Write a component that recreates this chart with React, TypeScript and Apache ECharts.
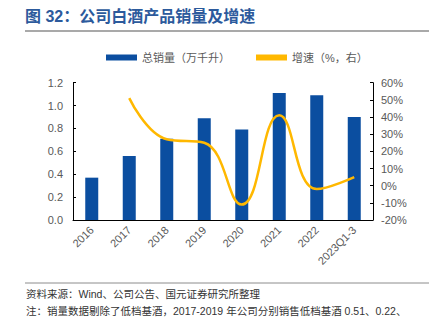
import React, { useEffect, useRef } from "react";
import * as echarts from "echarts";

const categories = ["2016", "2017", "2018", "2019", "2020", "2021", "2022", "2023Q1-3"];
const volume = [0.37, 0.56, 0.71, 0.89, 0.79, 1.11, 1.09, 0.9];
const growth = [null, 51, 27, 25, -11, 41, -2, 5];
const leftTicks = [0, 0.2, 0.4, 0.6, 0.8, 1.0, 1.2];
const rightTicks = [-20, -10, 0, 10, 20, 30, 40, 50, 60];

const titleText = "图 32：公司白酒产品销量及增速";
const sourceText = "资料来源：Wind、公司公告、国元证券研究所整理";
const noteText = "注：销量数据剔除了低档基酒，2017-2019 年公司分别销售低档基酒 0.51、0.22、";

export default function App() {
  const ref = useRef<HTMLDivElement>(null);
  useEffect(() => {
    document.body.style.margin = "0";
    const chart = echarts.init(ref.current!, null, { renderer: "svg" });
    const font = "Arial, 'Liberation Sans', 'Noto Sans CJK SC', sans-serif";
    chart.setOption({
      animation: false,
      textStyle: { fontFamily: font },
      grid: { left: 73, right: 62, top: 82.7, bottom: 104 },
      legend: {
        top: 47,
        left: 101,
        itemGap: 26,
        itemWidth: 31,
        itemHeight: 6,
        textStyle: { fontSize: 11, color: "#595959", fontFamily: font },
        data: [
          { name: "总销量（万千升）", icon: "rect" },
          { name: "增速（%，右）", icon: "rect" },
        ],
      },
      xAxis: {
        type: "category",
        data: categories,
        axisLine: { lineStyle: { color: "#000", width: 1 } },
        axisTick: { inside: true, length: 3, lineStyle: { color: "#000" } },
        axisLabel: { rotate: 45, fontSize: 11, color: "#595959", margin: 8 },
      },
      yAxis: [
        {
          type: "value",
          min: leftTicks[0],
          max: leftTicks[leftTicks.length - 1],
          interval: 0.2,
          splitLine: { show: false },
          axisLine: { show: true, lineStyle: { color: "#000" } },
          axisTick: { show: true, inside: true, length: 3, lineStyle: { color: "#000" } },
          axisLabel: { fontSize: 11, color: "#595959", formatter: (v: number) => v.toFixed(1), margin: 10 },
        },
        {
          type: "value",
          min: rightTicks[0],
          max: rightTicks[rightTicks.length - 1],
          interval: 10,
          splitLine: { show: false },
          axisLine: { show: true, lineStyle: { color: "#000" } },
          axisTick: { show: true, inside: true, length: 3, lineStyle: { color: "#000" } },
          axisLabel: { fontSize: 11, color: "#595959", formatter: (v: number) => v + "%", margin: 8 },
        },
      ],
      series: [
        {
          name: "总销量（万千升）",
          type: "bar",
          data: volume,
          barWidth: 13,
          itemStyle: { color: "#0B4EA0" },
        },
        {
          name: "增速（%，右）",
          type: "line",
          yAxisIndex: 1,
          data: growth,
          smooth: 0.45,
          showSymbol: false,
          symbol: "none",
          connectNulls: false,
          lineStyle: { color: "#FFB800", width: 2.5 },
          itemStyle: { color: "#FFB800" },
        },
      ],
      graphic: [
        {
          type: "text",
          left: 25,
          top: 8,
          style: { text: titleText, fill: "#2C5A9C", font: `bold 16px ${font}` },
        },
        {
          type: "line",
          shape: { x1: 25, y1: 31, x2: 429, y2: 31 },
          style: { stroke: "#8C8C8C", lineWidth: 1.5 },
        },
        {
          type: "line",
          shape: { x1: 25, y1: 283, x2: 429, y2: 283 },
          style: { stroke: "#8C8C8C", lineWidth: 1 },
        },
        {
          type: "text",
          left: 26,
          top: 289,
          style: { text: sourceText, fill: "#333", font: `10.5px ${font}` },
        },
        {
          type: "text",
          left: 26,
          top: 306,
          style: { text: noteText, fill: "#333", font: `10.5px ${font}` },
        },
      ],
    });
    return () => chart.dispose();
  }, []);
  return <div ref={ref} style={{ position: "absolute", left: 0, top: 0, width: 435, height: 324 }} />;
}
